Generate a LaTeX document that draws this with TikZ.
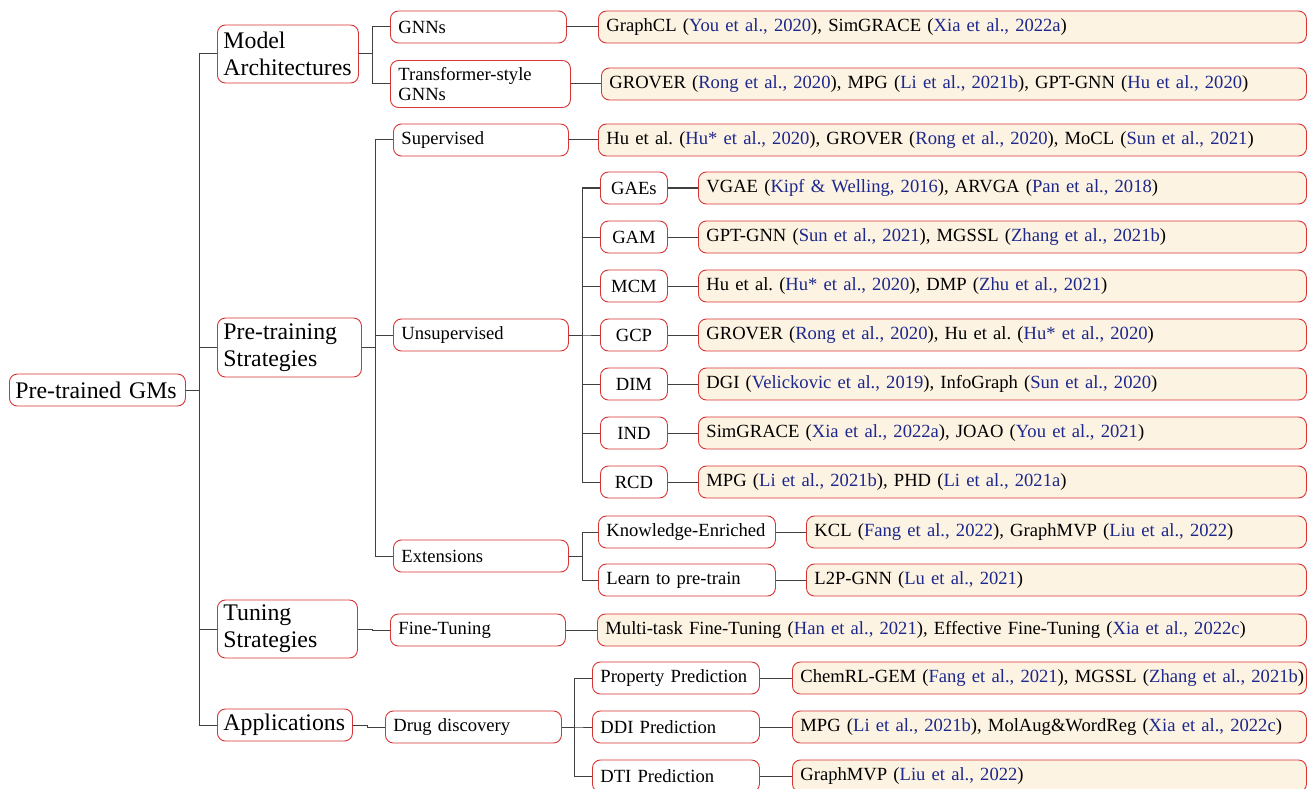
\documentclass[tikz,border=0pt]{standalone}
\usepackage{fontspec}
\setmainfont{Liberation Serif}
\definecolor{boxred}{RGB}{216,52,52}
\definecolor{leaffill}{RGB}{253,243,226}
\definecolor{citeblue}{RGB}{28,40,140}
\newcommand{\ct}[1]{{\color{citeblue}#1}}
\newcommand{\fsn}{\fontsize{18.6}{20.5}\selectfont}
\newcommand{\fsl}{\fontsize{23.8}{27}\selectfont}
\frenchspacing
\begin{document}
\begin{tikzpicture}[x=1pt,y=-1pt,
  bx/.style={draw=boxred, line width=0.9pt, rounded corners=8pt, anchor=west,
    inner xsep=8pt, inner ysep=0pt, minimum height=32pt, fill=white, align=left, font=\fsn},
  big/.style={bx, inner xsep=6pt, font=\fsl},
  mid/.style={bx, align=center},
  lf/.style={bx, fill=leaffill},
  conn/.style={draw=black!75, line width=1pt}]
\useasboundingbox (0,0) rectangle (1307,789);
% root and level 1
\node[big, text width=164pt] (root) at (9,390) {Pre-trained GMs};
\node[big, text width=129pt, minimum height=58pt] (m1) at (217,54) {Model\\Architectures};
\node[big, text width=132pt, minimum height=59pt] (m2) at (217,347.5) {Pre-training\\Strategies};
\node[big, text width=128pt, minimum height=58pt] (m3) at (217,629) {Tuning\\Strategies};
\node[big, text width=123pt] (m4) at (217,725) {Applications};
% level 2
\node[bx, text width=160pt] (gnn) at (390,27) {GNNs};
\node[bx, text width=164pt, minimum height=47pt, font=\fontsize{18.6}{20}\selectfont] (tsg) at (390,84) {Transformer-style\\GNNs};
\node[bx, text width=159pt] (sup) at (393,140) {Supervised};
\node[bx, text width=159pt] (uns) at (393,335) {Unsupervised};
\node[bx, text width=159pt] (ext) at (393,556) {Extensions};
\node[bx, text width=159pt] (ft) at (390,630) {Fine-Tuning};
\node[bx, text width=160pt] (dd) at (385,727) {Drug discovery};
% level 3 (unsupervised)
\node[mid, text width=51pt] (gae) at (600,188) {GAEs};
\node[mid, text width=51pt] (gam) at (600,237) {GAM};
\node[mid, text width=51pt] (mcm) at (600,286) {MCM};
\node[mid, text width=51pt] (gcp) at (600,335) {GCP};
\node[mid, text width=51pt] (dim) at (600,384) {DIM};
\node[mid, text width=51pt] (ind) at (600,433) {IND};
\node[mid, text width=51pt] (rcd) at (600,482) {RCD};
% level 3 (extensions)
\node[bx, text width=161pt] (ke) at (598,532) {\mbox{Knowledge-Enriched}};
\node[bx, text width=161pt] (lp) at (598,580) {Learn to pre-train};
% level 3 (drug discovery)
\node[bx, text width=151pt] (pp) at (592,678) {Property Prediction};
\node[bx, text width=151pt] (ddi) at (592,727) {DDI Prediction};
\node[bx, text width=151pt] (dti) at (592,776) {DTI Prediction};
% leaves
\node[lf, text width=692pt] (l1) at (598,27) {GraphCL (\ct{You et al., 2020}), SimGRACE (\ct{Xia et al., 2022a})};
\node[lf, text width=689pt] (l2) at (601,84) {GROVER (\ct{Rong et al., 2020}), MPG (\ct{Li et al., 2021b}), GPT-GNN (\ct{Hu et al., 2020})};
\node[lf, text width=692pt] (l3) at (598,140) {Hu et al. (\ct{Hu* et al., 2020}), GROVER (\ct{Rong et al., 2020}), MoCL (\ct{Sun et al., 2021})};
\node[lf, text width=592pt] (l4) at (698,188) {VGAE (\ct{Kipf \& Welling, 2016}), ARVGA (\ct{Pan et al., 2018})};
\node[lf, text width=592pt] (l5) at (698,237) {GPT-GNN (\ct{Sun et al., 2021}), MGSSL (\ct{Zhang et al., 2021b})};
\node[lf, text width=592pt] (l6) at (698,286) {Hu et al. (\ct{Hu* et al., 2020}), DMP (\ct{Zhu et al., 2021})};
\node[lf, text width=592pt] (l7) at (698,335) {GROVER (\ct{Rong et al., 2020}), Hu et al. (\ct{Hu* et al., 2020})};
\node[lf, text width=592pt] (l8) at (698,384) {DGI (\ct{Velickovic et al., 2019}), InfoGraph (\ct{Sun et al., 2020})};
\node[lf, text width=592pt] (l9) at (698,433) {SimGRACE (\ct{Xia et al., 2022a}), JOAO (\ct{You et al., 2021})};
\node[lf, text width=592pt] (l10) at (698,482) {MPG (\ct{Li et al., 2021b}), PHD (\ct{Li et al., 2021a})};
\node[lf, text width=484pt] (l11) at (806,532) {KCL (\ct{Fang et al., 2022}), GraphMVP (\ct{Liu et al., 2022})};
\node[lf, text width=484pt] (l12) at (806,580) {L2P-GNN (\ct{Lu et al., 2021})};
\node[lf, text width=693pt] (l13) at (597,630) {Multi-task Fine-Tuning (\ct{Han et al., 2021}), Effective Fine-Tuning (\ct{Xia et al., 2022c})};
\node[lf, text width=498pt] (l14) at (792,678) {\mbox{ChemRL-GEM (\ct{Fang et al., 2021}), MGSSL (\ct{Zhang et al., 2021b})}};
\node[lf, text width=498pt] (l15) at (792,727) {MPG (\ct{Li et al., 2021b}), MolAug\&WordReg (\ct{Xia et al., 2022c})};
\node[lf, text width=498pt] (l16) at (792,776) {GraphMVP (\ct{Liu et al., 2022})};
% tree connectors
\foreach \c in {m1,m2,m3,m4} \draw[conn] (root.east) -- ++(14,0) |- (\c.west);
\foreach \c in {gnn,tsg} \draw[conn] (m1.east) -- ++(14,0) |- (\c.west);
\foreach \c in {sup,uns,ext} \draw[conn] (m2.east) -- ++(14,0) |- (\c.west);
\draw[conn] (m3.east) -- ++(15,0) |- (ft.west);
\draw[conn] (m4.east) -- ++(15,0) |- (dd.west);
\foreach \c in {gae,gam,mcm,gcp,dim,ind,rcd} \draw[conn] (uns.east) -- ++(14,0) |- (\c.west);
\foreach \c in {ke,lp} \draw[conn] (ext.east) -- ++(14,0) |- (\c.west);
\foreach \c in {pp,ddi,dti} \draw[conn] (dd.east) -- ++(13,0) |- (\c.west);
% leaf connectors
\draw[conn] (gnn.east) -- (l1.west);
\draw[conn] (tsg.east) -- (l2.west);
\draw[conn] (sup.east) -- (l3.west);
\draw[conn] (gae.east) -- (l4.west);
\draw[conn] (gam.east) -- (l5.west);
\draw[conn] (mcm.east) -- (l6.west);
\draw[conn] (gcp.east) -- (l7.west);
\draw[conn] (dim.east) -- (l8.west);
\draw[conn] (ind.east) -- (l9.west);
\draw[conn] (rcd.east) -- (l10.west);
\draw[conn] (ke.east) -- (l11.west);
\draw[conn] (lp.east) -- (l12.west);
\draw[conn] (ft.east) -- (l13.west);
\draw[conn] (pp.east) -- (l14.west);
\draw[conn] (ddi.east) -- (l15.west);
\draw[conn] (dti.east) -- (l16.west);
\end{tikzpicture}
\end{document}
